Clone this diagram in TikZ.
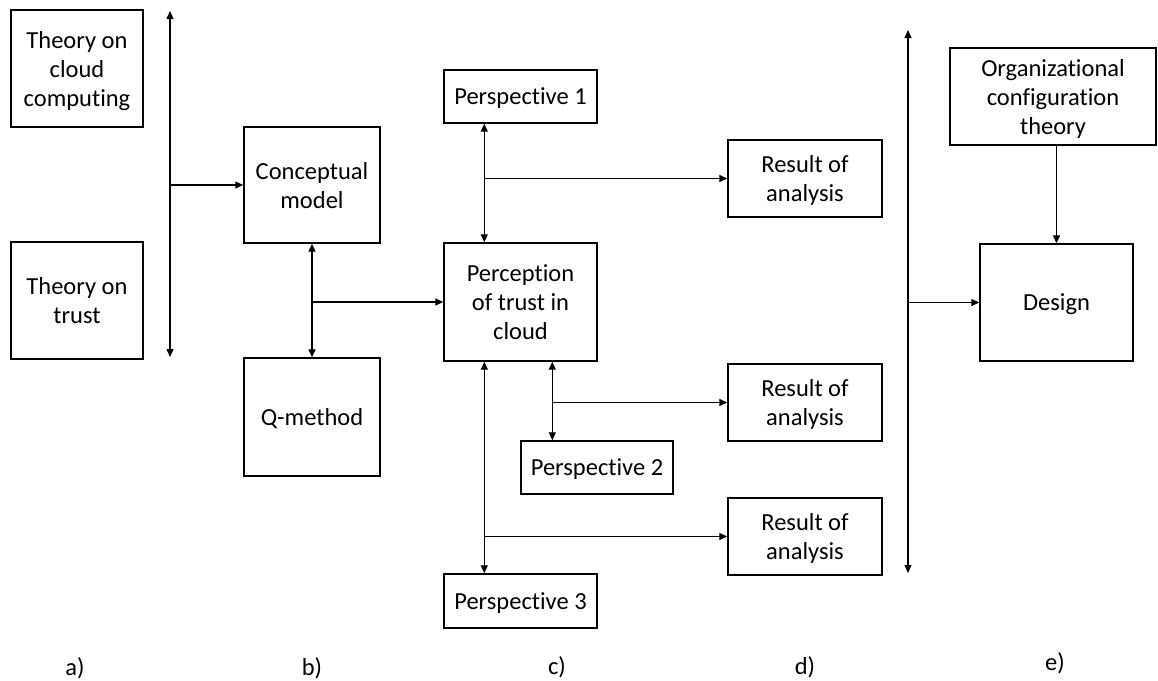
\documentclass[tikz,border=0pt]{standalone}
\usepackage{fontspec}
\setmainfont{Carlito}[Ligatures=NoCommon]
\usetikzlibrary{arrows.meta}
\begin{document}
\begin{tikzpicture}[x=1pt,y=-1pt,
  box/.style={draw, line width=1.4pt, inner sep=0pt, align=center,
    font=\fontsize{24.5}{29}\selectfont, text depth=0pt, yshift=0pt},
  lbl/.style={inner sep=0pt, font=\fontsize{24.5}{29}\selectfont},
  conn/.style={line width=1.3pt, -{Triangle[length=8pt,width=7pt]}},
  dconn/.style={line width=1.3pt, {Triangle[length=8pt,width=7pt]}-{Triangle[length=8pt,width=7pt]}}]
\useasboundingbox (0,0) rectangle (1158,680);

% column a: theories
\node[box, minimum width=132, minimum height=117] (tcc) at (77,68.5) {Theory on\\cloud\\computing};
\node[box, minimum width=132, minimum height=117] (tt) at (77,300.5) {Theory on\\trust};

% column b: model and method
\node[box, minimum width=136, minimum height=116] (cm) at (312,185) {Conceptual\\model};
\node[box, minimum width=136, minimum height=118] (qm) at (312,417) {Q-method};

% column c: perception and perspectives
\node[box, minimum width=153, minimum height=53] (p1) at (520.5,96.5) {Perspective 1};
\node[box, minimum width=153, minimum height=118] (pc) at (520.5,302) {Perception\\of trust in\\cloud};
\node[box, minimum width=152, minimum height=53] (p2) at (597,467.5) {Perspective 2};
\node[box, minimum width=153, minimum height=54] (p3) at (520.5,601) {Perspective 3};

% column d: results
\node[box, minimum width=154, minimum height=77] (r1) at (805,178.5) {Result of\\analysis};
\node[box, minimum width=154, minimum height=77] (r2) at (805,402.5) {Result of\\analysis};
\node[box, minimum width=154, minimum height=77] (r3) at (805,536.5) {Result of\\analysis};

% column e: design
\node[box, minimum width=206, minimum height=97] (oc) at (1053,96.5) {Organizational\\configuration\\theory};
\node[box, minimum width=153, minimum height=117] (ds) at (1056.5,302.5) {Design};

% column labels
\node[lbl] (la) at (75,668) {a)};
\node[lbl] (lb) at (312,668) {b)};
\node[lbl] (lc) at (557,667) {c)};
\node[lbl] (ld) at (805,667) {d)};
\node[lbl] (le) at (1055,663) {e)};

% vertical bus between a and b
\coordinate (atop) at (170,11);
\coordinate (abot) at (170,357);
\draw[dconn] (atop) -- (abot);
\draw[conn] (atop |- cm.west) -- (cm.west);

% b links
\draw[dconn] (cm.south) -- (qm.north);
\draw[conn] (cm.south |- pc.west) -- (pc.west);

% perspective 1
\coordinate (c1a) at ([xshift=41pt]p1.south west);
\coordinate (c1b) at ([xshift=41pt]pc.north west);
\draw[dconn] (c1a) -- (c1b);
\draw[conn] (c1a |- r1.west) -- (r1.west);

% perspective 2
\coordinate (c2a) at ([xshift=32pt]p2.north west);
\draw[dconn] (c2a |- pc.south) -- (c2a);
\draw[conn] (c2a |- r2.west) -- (r2.west);

% perspective 3
\coordinate (c3a) at ([xshift=41pt]p3.north west);
\coordinate (c3b) at ([xshift=41pt]pc.south west);
\draw[dconn] (c3b) -- (c3a);
\draw[conn] (c3a |- r3.west) -- (r3.west);

% vertical bus between d and e
\coordinate (etop) at (908,30);
\coordinate (ebot) at (908,573);
\draw[dconn] (etop) -- (ebot);
\draw[conn] (etop |- ds.west) -- (ds.west);
\draw[conn] (ds.north |- oc.south) -- (ds.north);
\end{tikzpicture}
\end{document}
